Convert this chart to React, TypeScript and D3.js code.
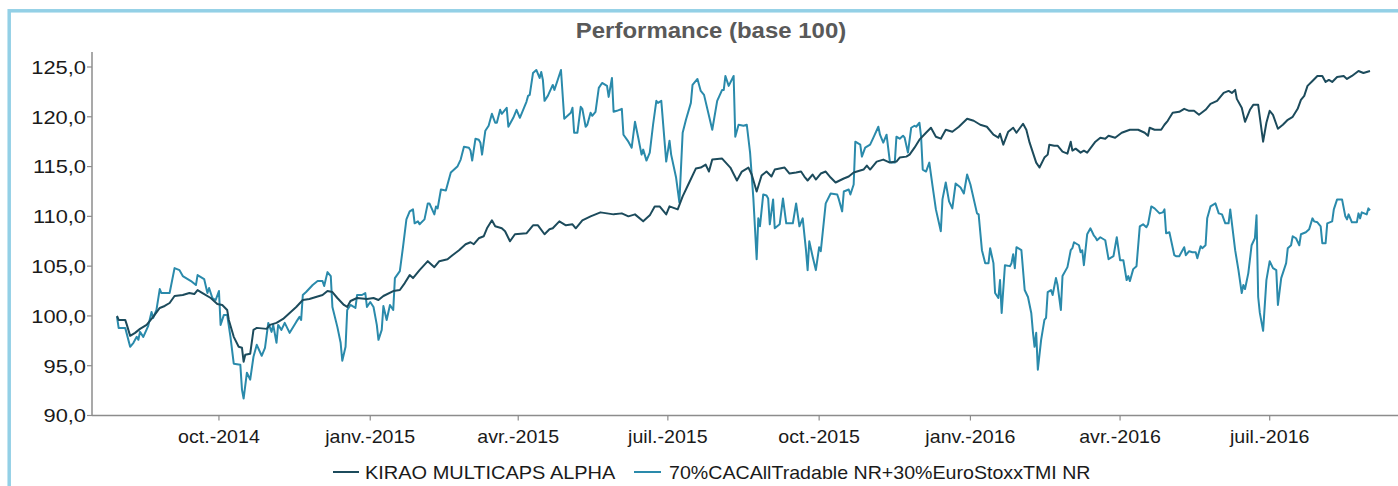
import React from 'react';
import * as d3 from 'd3';

const START_DATE = '2014-07-31';
const END_DAY = 762;

const seriesNames = ['KIRAO MULTICAPS ALPHA', '70%CACAllTradable NR+30%EuroStoxxTMI NR'];

const fundDays = [0,1,5,6,8,11,14,18,22,26,29,32,35,40,44,47,49,52,57,61,64,67,68,71,74,76,77,78,81,83,85,91,93,97,101,105,109,113,117,121,125,128,131,134,138,140,142,146,152,156,159,162,168,172,175,178,180,184,189,193,196,201,204,208,212,215,217,220,223,225,228,230,234,236,239,242,249,253,256,260,263,265,269,273,277,279,283,288,294,302,307,311,315,320,324,327,330,334,336,341,344,348,352,355,358,360,362,368,373,377,380,384,386,389,392,395,398,400,406,409,413,416,418,420,423,425,428,431,434,437,442,445,448,450,454,456,458,462,466,470,474,476,480,482,485,488,492,495,498,501,504,508,512,517,521,523,525,529,533,536,537,539,542,545,547,551,553,555,558,559,561,564,566,567,570,572,575,578,580,581,583,586,588,590,595,598,601,603,607,611,616,621,625,627,628,631,635,637,639,642,646,649,652,655,658,662,665,669,673,676,678,680,681,684,686,689,691,694,697,699,701,703,706,709,712,715,718,720,722,724,727,730,733,735,737,739,742,746,748,751,755,758,762];
const fundValues = [100.0,99.6,99.6,99.1,98.0,98.3,98.7,99.1,99.9,100.8,101.0,101.3,102.0,102.1,102.3,102.2,102.6,102.3,101.8,101.2,101.1,100.6,99.6,97.9,96.9,96.8,95.4,96.1,96.2,98.6,98.8,98.7,99.1,99.3,99.7,100.3,100.9,101.6,101.7,101.9,102.1,102.5,102.4,101.8,101.1,100.9,101.5,101.8,101.7,101.8,101.6,102.0,102.5,102.6,103.3,104.1,103.8,104.6,105.5,104.9,105.5,105.7,106.1,106.6,107.2,107.4,107.2,107.8,108.0,108.8,109.6,109.0,108.8,108.5,107.5,108.2,108.3,109.1,109.1,108.2,108.7,108.8,109.5,109.1,109.2,108.8,109.6,110.0,110.4,110.2,110.3,110.0,110.2,109.5,110.1,111.0,111.0,110.2,111.0,110.7,112.0,113.4,114.8,114.9,115.2,114.5,115.7,115.8,114.9,113.6,114.5,114.9,114.2,112.5,114.1,114.5,114.0,114.7,114.9,114.3,114.4,114.5,114.0,113.6,114.2,113.7,114.3,114.5,113.9,113.4,113.8,114.0,114.4,114.5,114.7,115.1,114.7,115.5,115.7,115.4,115.5,115.9,116.0,116.2,116.9,117.7,118.4,118.9,118.0,117.8,118.7,118.5,119.0,119.8,119.6,119.4,119.2,119.0,118.2,117.9,118.3,117.2,118.5,118.9,118.4,119.3,118.7,117.4,115.9,115.4,114.9,115.9,116.2,117.2,117.1,117.1,116.5,116.3,117.5,116.6,116.8,116.4,116.6,116.4,117.5,117.9,117.8,118.1,117.9,118.4,118.7,118.7,118.4,118.1,118.9,118.7,118.7,119.2,119.6,120.4,120.5,120.8,120.6,120.6,120.2,120.7,121.3,121.6,122.4,122.6,122.4,122.7,121.8,120.9,119.5,120.7,121.2,121.2,117.5,119.4,120.6,120.2,118.8,119.2,119.7,120.0,120.8,121.7,122.1,123.1,123.6,124.1,124.1,123.5,123.7,123.5,124.0,124.1,123.8,124.1,124.6,124.4,124.6];

const benchDays = [0,1,5,8,10,12,13,14,16,19,21,22,24,26,27,32,35,38,40,45,48,49,53,55,56,58,60,62,63,65,67,69,71,75,76,77,79,81,83,85,88,90,92,94,95,97,98,100,102,105,109,111,112,113,115,119,122,125,126,128,130,131,134,136,137,139,140,142,145,146,149,151,152,154,156,158,159,161,162,164,166,168,169,172,174,176,178,180,181,183,184,187,189,190,193,194,195,197,200,203,207,209,211,214,215,216,218,220,221,222,224,226,228,230,231,233,234,237,238,241,243,245,247,249,250,251,253,255,257,258,259,260,262,265,266,268,270,272,276,277,278,280,282,283,285,286,288,289,291,293,295,298,299,301,302,304,307,308,311,313,315,317,319,320,322,324,326,328,329,331,334,336,337,340,342,344,346,349,350,353,355,357,362,365,368,369,370,372,375,376,378,381,383,385,387,389,390,391,393,395,396,397,399,400,403,405,407,411,413,415,417,419,420,421,423,425,427,428,431,434,438,439,441,442,445,446,448,449,452,453,455,458,460,463,464,466,468,470,471,473,474,476,478,479,481,483,485,486,488,489,490,492,494,496,498,501,502,504,506,508,510,513,515,517,519,523,524,526,528,530,531,533,534,536,537,538,540,543,544,545,546,547,550,552,554,556,557,558,559,560,562,564,565,566,568,569,571,572,574,575,578,580,581,582,585,586,587,588,590,592,594,595,596,598,601,603,606,608,610,612,614,615,616,618,620,622,624,626,627,629,631,634,636,637,638,640,643,644,646,649,650,652,654,656,657,659,660,662,663,665,668,670,672,674,676,677,680,682,684,685,686,688,690,692,693,694,695,697,699,701,703,705,706,708,711,712,714,715,717,719,720,723,725,727,728,730,732,733,735,736,739,740,742,745,747,748,749,751,754,755,756,757,760,761,762];
const benchValues = [99.9,98.8,98.8,96.9,97.3,97.9,97.6,98.4,97.9,99.0,100.4,99.8,100.6,102.7,102.3,102.3,104.8,104.6,104.0,103.5,103.1,104.1,103.7,102.3,102.8,101.8,101.6,102.5,99.1,100.1,100.1,97.9,95.2,95.1,92.6,91.7,94.3,93.6,95.9,97.1,96.0,96.8,99.3,98.4,99.1,97.3,99.1,98.6,99.3,98.3,99.4,99.9,99.6,102.1,102.4,103.1,103.5,103.5,103.0,104.4,104.0,100.9,98.9,97.3,95.5,96.9,100.6,101.1,100.8,102.1,102.1,102.3,100.9,101.4,100.9,99.1,97.6,98.6,101.0,99.6,101.1,100.6,103.8,104.5,107.0,109.7,110.5,110.7,109.3,109.5,109.2,109.7,111.3,111.3,110.2,111.0,110.8,112.7,112.6,114.4,115.0,115.7,117.0,116.9,116.6,115.6,117.8,117.7,117.4,116.2,118.6,119.1,120.3,119.4,119.4,120.7,120.3,120.9,119.0,119.9,120.7,119.9,120.7,121.5,122.1,122.2,124.4,124.7,123.9,124.5,123.7,121.6,122.1,123.2,122.7,123.7,124.7,119.8,120.4,120.9,118.4,118.4,121.0,120.8,119.0,119.2,120.4,120.1,120.5,122.9,123.4,123.1,122.0,123.9,120.5,120.6,120.8,118.2,117.5,116.9,119.5,117.9,116.2,116.7,115.6,116.4,119.2,121.6,121.4,121.6,115.5,117.6,116.2,113.9,111.4,118.4,119.7,121.4,123.2,123.8,122.6,122.2,118.7,121.6,122.7,122.7,124.1,123.1,124.1,118.0,119.2,119.1,119.2,116.4,111.8,105.7,109.8,109.0,112.2,112.1,111.8,109.2,111.7,108.8,109.2,111.8,109.3,109.3,111.3,109.0,109.8,106.6,104.6,107.5,106.0,104.6,106.9,106.5,111.3,112.3,112.2,111.7,110.5,112.5,112.7,112.2,113.2,117.5,117.2,116.0,116.9,117.2,117.9,119.0,118.2,117.4,118.2,115.5,115.4,115.4,118.0,117.8,118.1,117.9,116.4,118.9,119.1,119.0,119.4,118.0,114.7,114.5,115.4,113.0,110.7,108.5,111.7,113.4,111.5,110.8,113.3,112.9,112.3,114.2,113.2,110.3,110.2,106.6,105.3,105.3,106.8,105.3,102.3,101.8,103.6,100.3,105.1,105.0,105.3,106.2,104.8,106.9,106.6,102.6,101.9,100.3,98.4,96.9,98.3,94.6,97.6,99.6,99.8,102.4,102.6,102.1,103.8,103.1,100.6,104.0,104.9,106.6,106.8,107.4,107.1,106.4,106.6,105.1,108.2,108.8,108.1,107.9,107.6,107.9,107.6,105.7,106.0,107.9,105.6,105.6,103.6,104.0,103.5,104.7,105.0,109.0,109.2,108.9,109.2,111.0,110.8,110.3,110.4,110.7,108.3,108.4,106.1,106.0,106.0,106.9,106.1,106.5,106.4,106.4,105.8,107.0,106.8,107.1,109.8,111.0,111.3,110.3,110.2,109.3,109.3,110.7,106.6,104.6,102.3,103.1,102.7,104.3,107.1,107.8,110.1,101.9,100.3,98.5,103.6,105.5,104.8,104.6,101.1,103.8,105.3,106.8,107.1,108.0,107.8,107.1,108.2,108.4,108.7,109.8,109.5,109.4,109.0,107.3,107.3,109.3,109.5,110.7,111.7,111.7,110.0,109.7,110.2,109.4,109.4,110.3,109.8,110.4,110.2,110.8,110.6];

const xTickDates = ['2014-10-01', '2015-01-01', '2015-04-01', '2015-07-01', '2015-10-01', '2016-01-01', '2016-04-01', '2016-07-01'];
const xTickLabels = ['oct.-2014', 'janv.-2015', 'avr.-2015', 'juil.-2015', 'oct.-2015', 'janv.-2016', 'avr.-2016', 'juil.-2016'];
const yTicks = [90, 95, 100, 105, 110, 115, 120, 125];

const colors = ['#1c4b5c', '#2a8aab'];
const FONT = '"Liberation Sans", Arial, Helvetica, sans-serif';
const SX = 1.09;

const W = 1398;
const H = 486;

export default function App() {
  const parse = d3.utcParse('%Y-%m-%d');
  const start = parse(START_DATE) as Date;
  const x = d3.scaleUtc().domain([start, d3.utcDay.offset(start, END_DAY)]).range([117, 1370]);
  const y = d3.scaleLinear().domain([90, 125]).range([415.5, 67]);
  const line = d3.line<[number, number]>()
    .x(d => x(d3.utcDay.offset(start, d[0])))
    .y(d => y(d[1]));

  const fund: [number, number][] = fundDays.map((d, i) => [d, fundValues[i]]);
  const bench: [number, number][] = benchDays.map((d, i) => [d, benchValues[i]]);
  const fmt = (v: number) => d3.format('.1f')(v).replace('.', ',');

  const axisColor = '#8c8c8c';
  const plotLeft = 92;
  const plotBottom = y(90);

  return (
    <svg width={W} height={H} style={{ position: 'absolute', left: 0, top: 0, background: '#fff' }} fontFamily={FONT}>
      <rect x={9.2} y={10.8} width={1420} height={500} fill="none" stroke="#93d0e6" strokeWidth={3.5} />
      <text transform={`translate(${711},${38}) scale(${SX},1)`} textAnchor="middle" fontSize={22} fontWeight="bold" fill="#595959">
        Performance (base 100)
      </text>

      {/* y axis */}
      <line x1={plotLeft} x2={plotLeft} y1={52} y2={plotBottom} stroke={axisColor} strokeWidth={1.5} />
      {yTicks.map(t => (
        <g key={t}>
          <line x1={plotLeft - 5} x2={plotLeft} y1={y(t)} y2={y(t)} stroke={axisColor} strokeWidth={1.2} />
          <text transform={`translate(${86},${y(t) + 6.8}) scale(1.15,1)`} textAnchor="end" fontSize={19} fill="#1a1a1a">
            {fmt(t)}
          </text>
        </g>
      ))}

      {/* x axis */}
      <line x1={plotLeft} x2={W} y1={plotBottom} y2={plotBottom} stroke={axisColor} strokeWidth={1.5} />
      {xTickDates.map((d, i) => {
        const px = x(parse(d) as Date);
        return (
          <g key={d}>
            <line x1={px} x2={px} y1={plotBottom} y2={plotBottom + 5} stroke={axisColor} strokeWidth={1.2} />
            <text transform={`translate(${px},${443}) scale(${SX},1)`} textAnchor="middle" fontSize={18} fill="#1a1a1a">
              {xTickLabels[i]}
            </text>
          </g>
        );
      })}

      {/* lines */}
      <path d={line(bench) || ''} fill="none" stroke={colors[1]} strokeWidth={2} strokeLinejoin="round" />
      <path d={line(fund) || ''} fill="none" stroke={colors[0]} strokeWidth={2} strokeLinejoin="round" />

      {/* legend */}
      <g>
        <line x1={333} x2={359} y1={472} y2={472} stroke={colors[0]} strokeWidth={2} />
        <text transform={`translate(${365},${478.5}) scale(1.11,1)`} fontSize={18} fill="#1a1a1a">{seriesNames[0]}</text>
        <line x1={634} x2={661} y1={472} y2={472} stroke={colors[1]} strokeWidth={2} />
        <text transform={`translate(${669},${478.5}) scale(${SX},1)`} fontSize={18} fill="#1a1a1a">{seriesNames[1]}</text>
      </g>
    </svg>
  );
}
